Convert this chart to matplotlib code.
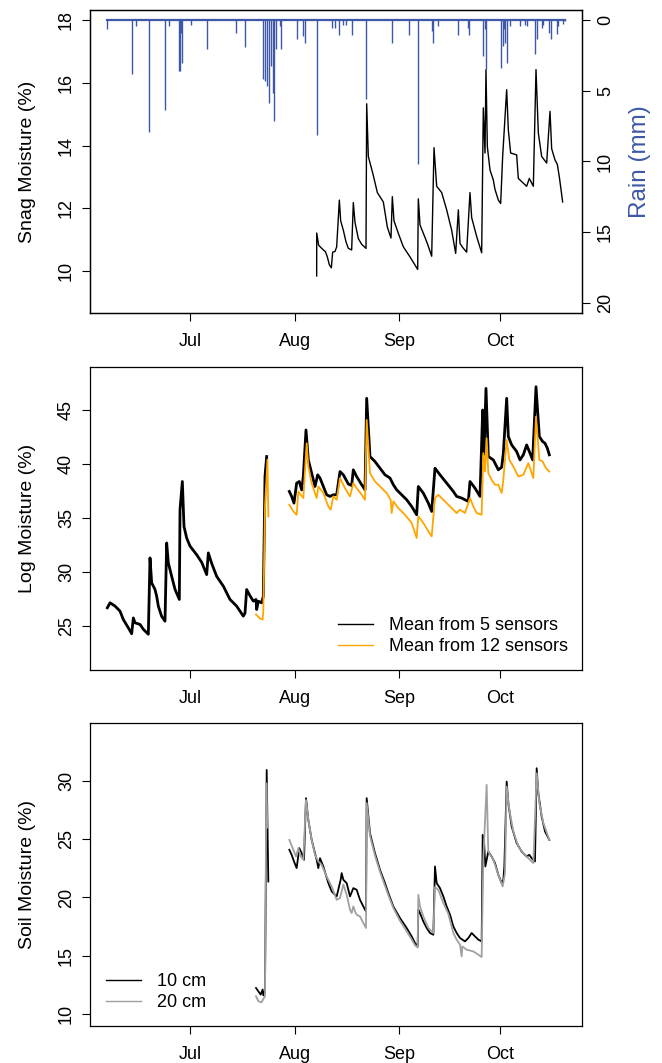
import numpy as np
import pandas as pd
import matplotlib
matplotlib.use("Agg")
import matplotlib.pyplot as plt
import matplotlib.dates as mdates
from matplotlib.lines import Line2D

plt.rcParams['font.family'] = ['Liberation Sans', 'DejaVu Sans']

# all x values are days after June 1
start = pd.Timestamp("2015-06-01")
x_range = (0.37, 146.15)

# snag moisture (%) - (day, value)
snag = [(67.53, 9.84), (67.55, 11.21), (68.12, 10.82), (69.51, 10.67), (70.10, 10.62),
        (70.69, 10.45), (71.28, 10.20), (71.88, 10.10), (72.27, 10.60), (72.96, 10.62),
        (73.46, 10.77), (74.25, 12.26), (74.64, 11.60), (75.43, 11.30), (76.22, 10.93),
        (76.91, 10.72), (77.90, 10.67), (78.39, 12.18), (78.89, 11.55), (79.88, 11.03),
        (80.87, 10.85), (82.15, 10.72), (82.35, 15.33), (82.84, 13.65), (84.12, 13.13),
        (85.51, 12.50), (87.28, 12.20), (88.47, 11.40), (89.55, 11.05), (89.95, 12.37),
        (90.44, 11.60), (91.73, 11.20), (93.21, 10.77), (95.18, 10.45), (97.46, 10.05),
        (97.65, 12.30), (98.15, 11.47), (99.14, 11.20), (100.32, 10.88), (101.61, 10.47),
        (102.30, 13.93), (103.09, 12.70), (104.57, 12.50), (106.05, 11.95), (107.53, 11.30),
        (108.72, 10.56), (109.51, 11.95), (110.00, 10.88), (110.79, 10.75), (111.97, 10.60),
        (112.96, 12.50), (113.46, 11.70), (114.94, 11.10), (116.42, 10.58), (116.91, 15.20),
        (117.41, 13.76), (117.70, 16.42), (118.10, 13.97), (118.89, 13.22), (119.87, 12.90),
        (120.37, 12.60), (121.36, 12.26), (122.05, 12.15), (122.64, 13.65), (123.83, 15.78),
        (124.32, 14.50), (125.01, 13.76), (126.79, 13.70), (127.28, 12.95), (128.77, 12.80),
        (129.75, 12.70), (130.54, 12.95), (131.73, 12.70), (132.52, 16.42), (133.21, 14.40),
        (134.20, 13.65), (135.68, 13.44), (136.67, 15.09), (137.16, 13.90), (138.15, 13.54),
        (138.84, 13.40), (139.43, 13.00), (140.42, 12.20)]

# rain (mm) - (day, mm)
rain = [(5.51, 0.62), (12.91, 3.85), (13.90, 0.44), (17.75, 7.93), (22.69, 6.33),
        (23.88, 0.44), (26.64, 3.62), (27.04, 3.62), (27.23, 0.91), (27.53, 3.03),
        (30.20, 0.39), (35.14, 2.08), (43.63, 0.91), (46.30, 1.90), (51.73, 4.20),
        (52.22, 4.32), (52.72, 4.68), (53.51, 5.85), (54.00, 3.26), (54.49, 5.15),
        (54.99, 7.15), (55.38, 2.08), (56.67, 0.44), (57.06, 2.08), (61.70, 1.38),
        (63.58, 1.14), (64.07, 1.61), (67.63, 8.14), (72.17, 0.55), (72.96, 0.55),
        (74.05, 1.09), (75.43, 0.39), (76.22, 0.39), (77.90, 1.09), (82.15, 5.62),
        (89.75, 1.61), (94.89, 1.09), (97.56, 10.21), (101.61, 0.79), (102.10, 1.61),
        (103.38, 0.44), (109.31, 1.09), (112.27, 0.55), (112.77, 1.09), (116.72, 2.56),
        (117.41, 0.67), (117.80, 3.50), (122.05, 3.38), (122.64, 1.85), (123.04, 0.67),
        (123.33, 1.61), (123.83, 3.03), (124.81, 0.44), (127.78, 0.44), (129.26, 0.39),
        (129.75, 0.44), (132.22, 2.44), (132.72, 1.38), (134.20, 0.55), (134.69, 0.39),
        (136.47, 0.91), (136.96, 1.38), (138.64, 1.02), (139.14, 0.44), (140.42, 0.32),
        (141.11, 0.05)]

nan = np.nan

# log moisture (%), mean of 5 sensors
log5 = [(5.51, 26.69), (6.30, 27.15), (7.78, 26.85), (9.26, 26.38), (10.25, 25.60),
        (11.73, 24.83), (12.72, 24.29), (13.21, 25.75), (13.70, 25.30), (15.19, 25.15),
        (16.17, 24.70), (17.65, 24.24), (18.15, 31.31), (18.64, 29.00), (19.63, 28.38),
        (20.12, 27.76), (20.62, 26.84), (21.60, 25.90), (22.59, 25.45), (23.09, 32.69),
        (23.58, 30.85), (24.57, 29.60), (25.56, 28.40), (26.84, 27.46), (27.04, 35.77),
        (27.73, 38.38), (28.22, 34.23), (29.01, 33.15), (30.00, 32.40), (31.98, 31.60),
        (33.46, 30.90), (34.94, 29.76), (35.43, 31.77), (36.42, 30.80), (37.90, 29.60),
        (39.88, 28.69), (41.85, 27.46), (43.83, 26.84), (45.80, 25.92), (46.30, 26.20),
        (46.79, 28.38), (47.78, 27.80), (48.77, 27.30), (49.56, 27.46), (49.75, 26.53),
        (50.25, 27.30), (51.23, 27.15), (51.73, 27.76), (52.22, 38.84), (52.72, 40.69),
        (56.00, nan),
        (59.43, 37.46), (60.12, 37.00), (60.81, 36.38), (61.60, 38.23), (62.39, 38.38),
        (63.09, 37.60), (63.58, 38.84), (64.37, 43.15), (65.06, 40.38), (66.05, 39.15),
        (67.04, 37.92), (67.83, 39.00), (68.52, 38.70), (69.51, 37.92), (70.49, 37.15),
        (71.48, 37.00), (72.47, 37.15), (73.46, 37.15), (74.44, 39.30), (75.43, 39.00),
        (76.91, 38.15), (77.90, 38.00), (78.39, 39.46), (79.38, 38.84), (80.87, 38.08),
        (81.85, 37.61), (82.35, 46.08), (83.33, 40.69), (84.81, 40.23), (86.30, 39.61),
        (87.78, 39.00), (89.26, 38.70), (90.25, 38.08), (91.23, 37.61), (92.72, 37.15),
        (94.20, 36.69), (95.68, 36.07), (97.16, 35.30), (97.65, 37.92), (99.14, 37.30),
        (100.62, 36.38), (101.61, 35.61), (102.59, 39.61), (104.07, 39.00), (106.05, 38.23),
        (108.02, 37.46), (109.01, 37.00), (110.49, 36.85), (111.48, 36.69), (112.47, 36.54),
        (112.96, 38.38), (114.44, 37.77), (115.93, 37.00), (116.72, 45.00), (117.11, 40.90),
        (117.70, 47.00), (118.39, 40.69), (119.88, 40.38), (121.36, 39.46), (122.35, 39.70),
        (122.84, 41.00), (123.83, 46.08), (124.32, 42.54), (125.31, 41.77), (126.79, 41.15),
        (127.78, 40.38), (128.77, 40.85), (129.75, 41.77), (130.74, 41.00), (131.53, 40.38),
        (132.52, 47.15), (133.51, 42.54), (134.49, 42.08), (135.19, 41.92), (135.88, 41.46),
        (136.47, 40.85)]

# log moisture (%), mean of 12 sensors
log12 = [(49.56, 26.07), (50.74, 25.70), (51.53, 25.60), (51.73, 26.50), (52.22, 36.00),
         (52.95, 40.40), (53.21, 35.15),
         (56.00, nan),
         (59.43, 36.23), (60.62, 35.61), (61.60, 35.30), (62.10, 37.46), (62.79, 37.15),
         (63.58, 36.85), (64.57, 41.92), (65.06, 39.77), (66.05, 38.23), (67.53, 36.85),
         (68.02, 37.92), (69.51, 37.31), (70.99, 36.07), (71.68, 35.77), (72.47, 37.00),
         (73.46, 36.69), (74.44, 38.69), (75.93, 37.77), (77.41, 37.00), (78.39, 38.23),
         (79.38, 37.77), (80.87, 37.15), (81.85, 36.69), (82.35, 44.08), (83.33, 39.15),
         (84.81, 38.38), (86.79, 37.77), (88.27, 37.31), (89.46, 36.69), (89.75, 35.46),
         (90.25, 36.54), (91.73, 35.92), (93.70, 35.30), (95.68, 34.54), (96.67, 33.62),
         (97.16, 33.15), (97.65, 35.15), (99.14, 34.54), (100.62, 33.77), (101.61, 33.30),
         (102.59, 36.85), (103.58, 37.15), (105.06, 36.69), (107.04, 36.07), (109.01, 35.46),
         (110.00, 35.77), (111.48, 35.46), (112.96, 36.85), (113.95, 36.07), (114.94, 35.46),
         (116.42, 35.30), (116.91, 41.00), (117.41, 39.30), (117.90, 42.38), (118.39, 39.15),
         (119.38, 38.54), (120.37, 38.08), (121.36, 38.08), (122.35, 37.31), (122.84, 38.54),
         (123.83, 42.23), (124.62, 40.38), (125.80, 39.77), (127.28, 38.84), (128.77, 39.00),
         (130.25, 40.08), (131.73, 38.70), (132.52, 44.38), (133.51, 40.38), (134.49, 40.23),
         (135.48, 39.61), (136.47, 39.30)]

# soil moisture (%) at 10 cm
soil10 = [(49.56, 12.23), (50.25, 11.95), (50.94, 11.66), (51.53, 12.10), (51.73, 11.60),
          (52.22, 12.00), (52.72, 30.94), (53.21, 21.37),
          (56.00, nan),
          (59.43, 24.09), (60.12, 23.66), (60.81, 23.09), (61.60, 22.52), (62.39, 24.23),
          (63.09, 23.80), (63.78, 23.23), (64.37, 28.52), (65.06, 26.66), (66.05, 24.94),
          (67.53, 23.23), (68.02, 22.52), (68.52, 23.37), (69.51, 22.66), (70.99, 21.23),
          (71.98, 20.52), (72.96, 20.23), (73.46, 20.09), (74.64, 21.52), (74.94, 22.09),
          (75.43, 21.52), (76.42, 21.23), (77.41, 20.09), (78.39, 20.80), (79.38, 20.66),
          (80.37, 19.80), (81.36, 19.23), (82.15, 18.80), (82.35, 28.52), (83.33, 25.52),
          (84.81, 23.80), (86.30, 22.37), (87.78, 21.23), (88.77, 20.38), (90.25, 19.23),
          (92.22, 18.23), (94.20, 17.38), (95.68, 16.66), (96.67, 16.09), (97.46, 15.80),
          (97.65, 18.95), (98.15, 18.66), (99.14, 17.94), (100.12, 17.38), (101.11, 16.95),
          (102.10, 16.80), (102.59, 22.66), (103.09, 21.23), (104.07, 20.80), (105.06, 20.09),
          (106.05, 19.23), (107.04, 18.52), (108.02, 17.52), (109.01, 16.95), (110.00, 16.52),
          (111.48, 16.23), (112.47, 16.52), (113.46, 16.95), (114.44, 16.66), (115.43, 16.38),
          (116.42, 16.23), (116.72, 25.37), (117.11, 24.90), (117.51, 22.66), (118.39, 23.94),
          (119.38, 23.51), (120.37, 22.95), (121.36, 21.94), (122.35, 21.23), (122.84, 21.52),
          (123.14, 22.66), (123.83, 29.94), (124.32, 28.09), (125.31, 26.09), (126.79, 24.66),
          (128.27, 23.94), (129.75, 23.51), (130.54, 23.66), (131.23, 23.37), (132.22, 23.09),
          (132.72, 31.09), (133.21, 28.94), (134.20, 26.94), (135.19, 25.66), (136.47, 24.94)]

# soil moisture (%) at 20 cm
soil20 = [(49.56, 11.52), (50.25, 11.10), (51.23, 11.00), (51.73, 11.30), (52.22, 11.50),
          (52.62, 29.80), (52.90, 26.00),
          (56.00, nan),
          (59.43, 24.94), (60.62, 24.09), (61.41, 23.51), (62.10, 24.23), (62.79, 23.51),
          (63.58, 23.23), (64.37, 28.37), (65.06, 26.66), (66.05, 24.94), (67.04, 23.66),
          (68.02, 23.09), (69.01, 22.80), (70.49, 21.80), (71.98, 20.94), (73.46, 19.80),
          (74.44, 19.95), (75.43, 21.10), (76.42, 20.23), (77.41, 18.95), (77.90, 18.66),
          (78.39, 19.23), (78.89, 18.80), (79.38, 18.52), (80.37, 18.37), (81.36, 17.81),
          (82.15, 17.38), (82.35, 28.10), (83.33, 25.30), (84.81, 23.60), (86.30, 22.20),
          (87.78, 21.00), (88.77, 20.20), (90.25, 19.10), (92.22, 18.00), (94.20, 17.10),
          (95.68, 16.40), (96.67, 15.90), (97.46, 15.70), (97.65, 20.23), (98.15, 19.23),
          (99.14, 18.37), (100.62, 17.38), (102.10, 16.95), (102.59, 20.90), (103.58, 20.65),
          (105.06, 19.52), (106.54, 18.60), (108.02, 16.95), (109.01, 16.38), (110.00, 15.95),
          (110.49, 14.94), (110.69, 15.80), (111.97, 15.52), (113.95, 15.37), (115.43, 15.09),
          (116.42, 14.89), (116.91, 23.37), (117.90, 29.66), (118.39, 23.94), (119.88, 23.23),
          (121.36, 21.94), (122.64, 20.94), (123.33, 22.09), (123.83, 29.51), (124.62, 27.51),
          (125.80, 25.66), (127.28, 24.37), (128.77, 23.80), (130.25, 23.37), (131.73, 22.95),
          (132.72, 30.66), (133.51, 28.09), (134.69, 26.40), (136.47, 24.94)]

rain_blue = "#3d58a8"
W, H = 662, 1063


def to_xy(pairs):
    arr = np.array(pairs, dtype=float)
    return start + pd.to_timedelta(arr[:, 0], unit="D"), arr[:, 1]


def style(ax):
    ax.set_xlim(start + pd.Timedelta(days=x_range[0]), start + pd.Timedelta(days=x_range[1]))
    ax.xaxis.set_major_locator(mdates.MonthLocator())
    ax.xaxis.set_major_formatter(mdates.DateFormatter("%b"))
    ax.tick_params(axis="both", direction="out", length=5.8, width=0.8, labelsize=13)
    ax.tick_params(axis="x", pad=8.5)
    ax.tick_params(axis="y", labelrotation=90, pad=5)
    for lbl in ax.get_yticklabels():
        lbl.set_va("center")
    for sp in ax.spines.values():
        sp.set_linewidth(0.9)


def panel(top, bottom):
    return fig.add_axes([90 / W, 1 - bottom / H, 492 / W, (bottom - top) / H])


fig = plt.figure(figsize=(W / 100, H / 100), dpi=100)

# snag + rain
ax1 = panel(10, 313)
x, y = to_xy(snag)
ax1.plot(x, y, color="black", lw=1.0)
ax1.set_ylim(8.66, 18.32)
ax1.set_yticks([10, 12, 14, 16, 18])
style(ax1)

ax1r = ax1.twinx()
rx, rmm = to_xy(rain)
ax1r.vlines(rx, 0, rmm, color=rain_blue, lw=1.0)
ax1r.plot([rx[0], rx[-1]], [0, 0], color=rain_blue, lw=1.6)
ax1r.set_ylim(20.7, -0.7)
ax1r.set_yticks([0, 5, 10, 15, 20])
style(ax1r)

fig.text(28 / W, 1 - 161.5 / H, "Snag Moisture (%)", rotation=90, fontsize=14,
         ha="center", va="center")
fig.text(640 / W, 1 - 161.5 / H, "Rain (mm)", rotation=90, fontsize=17.5,
         color=rain_blue, ha="center", va="center")

# log
ax2 = panel(367, 670)
x, y = to_xy(log5)
ax2.plot(x, y, color="black", lw=2.0)
x, y = to_xy(log12)
ax2.plot(x, y, color="orange", lw=1.3)
ax2.set_ylim(20.93, 48.98)
ax2.set_yticks([25, 30, 35, 40, 45])
style(ax2)
fig.text(28 / W, 1 - 518.5 / H, "Log Moisture (%)", rotation=90, fontsize=14,
         ha="center", va="center")
handles = [Line2D([], [], color="black", lw=1.0), Line2D([], [], color="orange", lw=1.0)]
ax2.legend(handles, ["Mean from 5 sensors", "Mean from 12 sensors"], loc="upper left",
           bbox_to_anchor=(0.504, 0.175), frameon=False, borderpad=0, borderaxespad=0,
           handlelength=1.94, handletextpad=0.9, labelspacing=0.25, fontsize=13)

# soil
ax3 = panel(723, 1026)
x, y = to_xy(soil10)
ax3.plot(x, y, color="black", lw=1.3)
x, y = to_xy(soil20)
ax3.plot(x, y, color="#a0a0a0", lw=1.3)
ax3.set_ylim(8.97, 34.97)
ax3.set_yticks([10, 15, 20, 25, 30])
style(ax3)
fig.text(28 / W, 1 - 874.5 / H, "Soil Moisture (%)", rotation=90, fontsize=14,
         ha="center", va="center")
handles = [Line2D([], [], color="black", lw=1.0), Line2D([], [], color="#a0a0a0", lw=1.0)]
ax3.legend(handles, ["10 cm", "20 cm"], loc="upper left",
           bbox_to_anchor=(0.0325, 0.175), frameon=False, borderpad=0, borderaxespad=0,
           handlelength=1.94, handletextpad=0.9, labelspacing=0.25, fontsize=13)

fig.savefig("out.png", dpi=100)
